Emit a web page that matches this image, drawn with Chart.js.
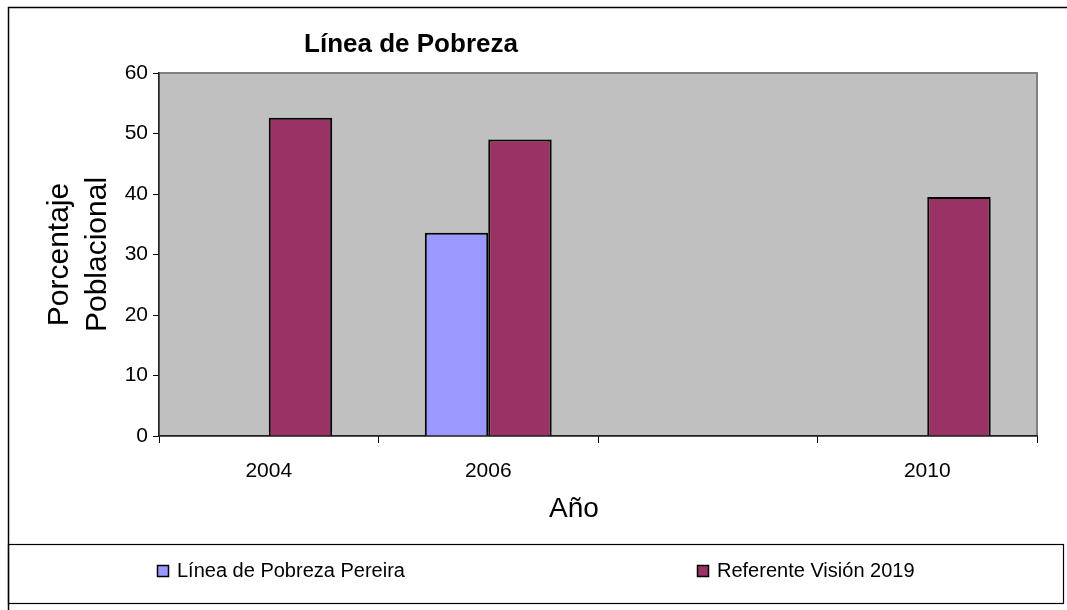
<!DOCTYPE html>
<html>
<head>
<meta charset="utf-8">
<script src="https://cdn.jsdelivr.net/npm/chart.js@4"></script>
<style>
  body { margin: 0; background: #fff; }
  #wrap { width: 1067px; height: 610px; }
</style>
</head>
<body>
<div id="wrap"><canvas id="povertyChart" width="1067" height="610"></canvas></div>
<script>
// data
var years = ['2004', '2006', '', '2010'];
var pereiraLine = [null, 33.6, null, null];
var vision2019 = [52.6, 49.0, null, 39.5];
var yTicks = [0, 10, 20, 30, 40, 50, 60];

Chart.defaults.font.family = "'Liberation Sans', Arial, sans-serif";
Chart.defaults.color = '#000';

// gray plot area, outer frame, title, x title and legend box
var frame = {
    id: 'frame',
    beforeDraw: function(chart) {
        var c = chart.ctx, a = chart.chartArea;
        c.save();
        c.fillStyle = '#fff';
        c.fillRect(0, 0, chart.width, chart.height);
        c.strokeStyle = '#000';
        c.lineWidth = 1.5;
        c.beginPath();
        c.moveTo(8.5, chart.height);
        c.lineTo(8.5, 7.5);
        c.lineTo(chart.width, 7.5);
        c.stroke();
        c.fillStyle = '#C0C0C0';
        c.fillRect(a.left, a.top, a.right - a.left, a.bottom - a.top);
        c.strokeStyle = '#808080';
        c.lineWidth = 2;
        c.strokeRect(a.left, a.top, a.right - a.left, a.bottom - a.top);
        c.restore();
    },
    afterDraw: function(chart) {
        var c = chart.ctx;
        c.save();
        c.fillStyle = '#000';
        c.textAlign = 'center';
        c.textBaseline = 'middle';
        c.font = "bold 26px 'Liberation Sans', Arial, sans-serif";
        c.fillText('Línea de Pobreza', 411, 45);
        c.font = "28px 'Liberation Sans', Arial, sans-serif";
        c.fillText('Año', 574, 509);

        // legend box
        c.strokeStyle = '#000';
        c.lineWidth = 1.2;
        c.strokeRect(8.5, 544.5, 1055, 59);
        var itemX = [157, 697];
        c.font = "20px 'Liberation Sans', Arial, sans-serif";
        c.textAlign = 'left';
        chart.data.datasets.forEach(function(ds, i) {
            c.fillStyle = ds.backgroundColor;
            c.fillRect(itemX[i], 565, 11, 11);
            c.lineWidth = 1.5;
            c.strokeRect(itemX[i] + 0.5, 565.5, 11, 11);
            c.fillStyle = '#000';
            c.fillText(ds.label, itemX[i] + 20, 571);
        });
        c.restore();
    }
};

var ctx = document.getElementById('povertyChart').getContext('2d');
var povertyChart = new Chart(ctx, {
    type: 'bar',
    data: {
        labels: years,
        datasets: [
            {
                label: 'Línea de Pobreza Pereira',
                data: pereiraLine,
                backgroundColor: '#9999FF',
                borderColor: '#000',
                borderWidth: 2
            },
            {
                label: 'Referente Visión 2019',
                data: vision2019,
                backgroundColor: '#993366',
                borderColor: '#000',
                borderWidth: 2
            }
        ]
    },
    options: {
        responsive: false,
        animation: false,
        categoryPercentage: 0.578,
        barPercentage: 1,
        layout: {
            padding: { left: 8, top: 73, right: 30, bottom: 74 }
        },
        plugins: {
            legend: { display: false },
            title: { display: false },
            tooltip: { enabled: false }
        },
        scales: {
            x: {
                grid: { offset: true, drawOnChartArea: false, tickLength: 7, color: '#000' },
                border: { color: '#222', width: 1.5 },
                ticks: { font: { size: 21 }, color: '#000', padding: 16 },
                afterFit: function(scale) { scale.height = 100; }
            },
            y: {
                min: 0,
                max: 60,
                afterBuildTicks: function(scale) {
                    scale.ticks = yTicks.map(function(v) { return { value: v }; });
                },
                grid: { drawOnChartArea: false, tickLength: 6, color: '#000' },
                border: { color: '#222', width: 1.5 },
                ticks: { font: { size: 21 }, color: '#000', padding: 5 },
                title: {
                    display: true,
                    text: ['Porcentaje', 'Poblacional'],
                    font: { size: 30, lineHeight: 1.25 },
                    color: '#000',
                    padding: { top: 33, bottom: 0 }
                },
                afterFit: function(scale) { scale.width = 151; }
            }
        }
    },
    plugins: [frame]
});
</script>
</body>
</html>
